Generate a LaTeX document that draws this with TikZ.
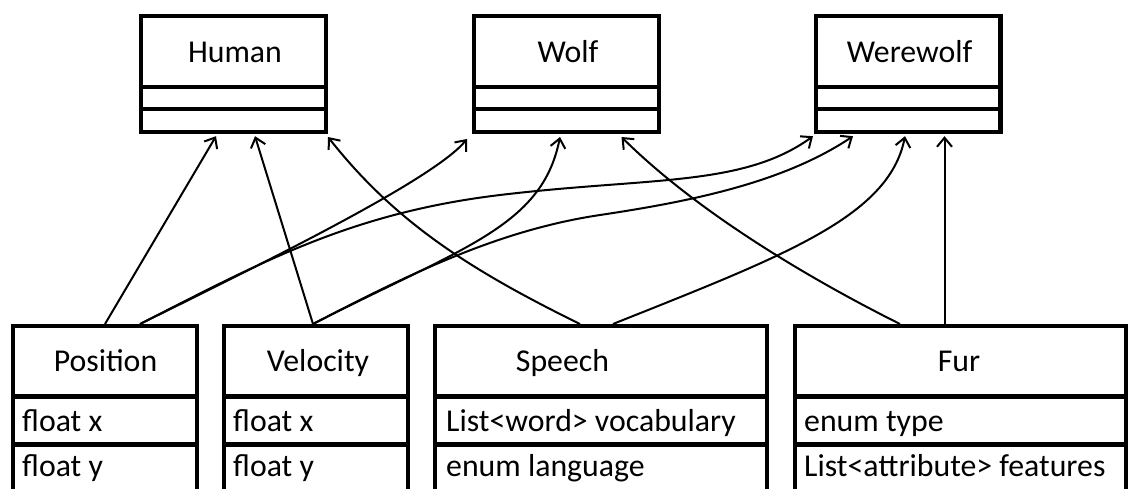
\documentclass[tikz,border=0pt]{standalone}
\usepackage{fontspec}
\setmainfont{Carlito}
\usetikzlibrary{arrows.meta}
\begin{document}
\begin{tikzpicture}[x=1pt,y=-1pt,
  box/.style={draw=black,line width=4.4pt,inner sep=0pt,fill=none},
  topbox/.style={box,minimum width=184.6pt,minimum height=115.6pt},
  botbox/.style={box,minimum height=178.8pt},
  divider/.style={draw=black,line width=4.5pt},
  title/.style={anchor=base,inner sep=0pt,font=\fontsize{31.8}{38}\selectfont},
  attr/.style={anchor=base west,inner sep=0pt,font=\fontsize{31.8}{38}\selectfont},
  conn/.style={draw=black,line width=2pt,-{Straight Barb[length=9pt,width=15pt]}}]
\clip (0,0) rectangle (1130,488);
\fill[white] (0,0) rectangle (1130,488);
% top classes
\node[topbox] (human) at (233.5,74) {};
\node[topbox] (wolf) at (566.5,74) {};
\node[topbox] (werewolf) at (908,74) {};
\foreach \b in {human,wolf,werewolf}{
  \draw[divider] (\b.west |- 0,87) -- (\b.east |- 0,87);
  \draw[divider] (\b.west |- 0,109) -- (\b.east |- 0,109);
}
\node[title] (humant) at (235,62.5) {Human};
\node[title] (wolft) at (568,62.5) {Wolf};
\node[title] (werewolft) at (909.5,62.5) {Werewolf};
% bottom classes
\node[botbox,minimum width=183.6pt] (pos) at (105,415.6) {};
\node[botbox,minimum width=183.6pt] (vel) at (316,415.6) {};
\node[botbox,minimum width=331.6pt] (speech) at (601,415.6) {};
\node[botbox,minimum width=330.6pt] (fur) at (960.5,415.6) {};
\foreach \b in {pos,vel,speech,fur}{
  \draw[divider] (\b.west |- 0,396.7) -- (\b.east |- 0,396.7);
  \draw[divider] (\b.west |- 0,444.7) -- (\b.east |- 0,444.7);
}
\node[title] (post) at (105.5,371.5) {Position};
\node[title] (velt) at (318,371.5) {Velocity};
\node[title] (speecht) at (562.5,371.5) {Speech};
\node[title] (furt) at (959,371.5) {Fur};
\node[attr] (posa) at (22,431.7) {float x};
\node[attr] (posb) at (22,476.5) {float y};
\node[attr] (vela) at (233,431.7) {float x};
\node[attr] (velb) at (233,476.5) {float y};
\node[attr] (speecha) at (446,431.7) {List<word> vocabulary};
\node[attr] (speechb) at (446,476.5) {enum language};
\node[attr] (fura) at (804,431.7) {enum type};
\node[attr] (furb) at (804,476.5) {List<attribute> features};
% connectors
\draw[conn] (pos.north) -- ([xshift=-17.5pt,yshift=-2.2pt]human.south);
\draw[conn] ([xshift=-3pt]vel.north) -- ([xshift=21.5pt,yshift=-2.2pt]human.south);
\draw[conn] ([xshift=-21pt]speech.north) .. controls (470,270) and (395,222) .. ([xshift=94.5pt,yshift=-3pt]human.south);
\draw[conn] ([xshift=35pt]pos.north) .. controls (280,255) and (435,178) .. ([xshift=-99.5pt,yshift=-5pt]wolf.south);
\draw[conn] ([xshift=35pt]pos.north) .. controls (260,263) and (350,213) .. (500,195) .. controls (650,177) and (743,187) .. ([xshift=-95pt,yshift=-2.2pt]werewolf.south);
\draw[conn] ([xshift=-3pt]vel.north) .. controls (463,247) and (542,227) .. ([xshift=-6.5pt,yshift=-3pt]wolf.south);
\draw[conn] ([xshift=-3pt]vel.north) .. controls (413,272) and (500,230) .. (600,215) .. controls (690,201.5) and (783,183) .. ([xshift=-55pt,yshift=-2.2pt]werewolf.south);
\draw[conn] ([xshift=12pt]speech.north) .. controls (783,256) and (889,217) .. ([xshift=-3pt,yshift=-2.2pt]werewolf.south);
\draw[conn] ([xshift=-60.5pt]fur.north) .. controls (800,274) and (693,208) .. ([xshift=55pt,yshift=-3pt]wolf.south);
\draw[conn] ([xshift=-16pt]fur.north) -- ([xshift=36.5pt,yshift=-2.2pt]werewolf.south);
\end{tikzpicture}
\end{document}
